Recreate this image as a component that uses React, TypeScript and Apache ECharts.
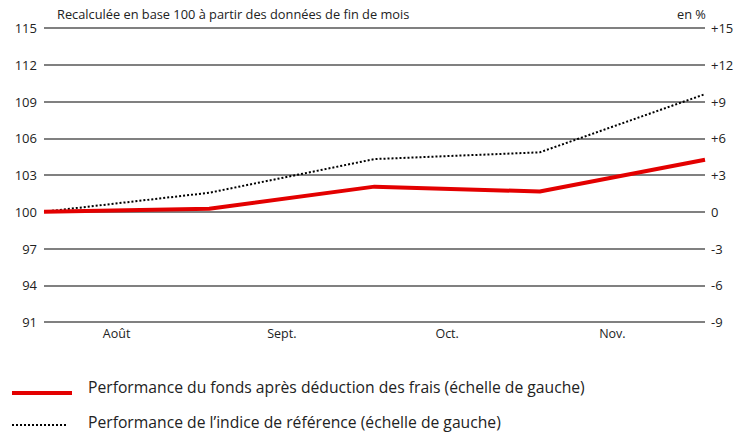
import React, { useEffect, useRef } from "react";
import * as echarts from "echarts";

const points = ["Jul", "Aug", "Sep", "Oct", "Nov"];
const months = ["Août", "Sept.", "Oct.", "Nov."];
const fund = [100, 100.25, 102.05, 101.65, 104.25];
const index = [100, 101.55, 104.3, 104.85, 109.6];
const leftTicks = [91, 115];
const rightTicks = [-9, 15];

const FONT = "'Open Sans', sans-serif";

export default function App() {
  const ref = useRef<HTMLDivElement>(null);
  useEffect(() => {
    const chart = echarts.init(ref.current!, null, { renderer: "svg" });
    chart.setOption({
      animation: false,
      grid: { left: 44, right: 42, top: 28, height: 294 },
      xAxis: [
        {
          type: "category",
          data: points,
          boundaryGap: false,
          axisLine: { show: false },
          axisTick: { show: false },
          axisLabel: { show: false },
        },
        {
          type: "category",
          data: months,
          boundaryGap: true,
          position: "bottom",
          axisLine: { show: false },
          axisTick: { show: false },
          axisLabel: {
            color: "#222",
            fontFamily: FONT,
            fontSize: 12.5,
            margin: 5,
            padding: [0, 20, 0, 0],
          },
        },
      ],
      yAxis: [
        {
          type: "value",
          min: leftTicks[0],
          max: leftTicks[1],
          interval: 3,
          axisLine: { show: false },
          axisTick: { show: false },
          axisLabel: { color: "#222", fontFamily: FONT, fontSize: 13, margin: 7 },
          splitLine: { lineStyle: { color: "#808080", width: 2 } },
        },
        {
          type: "value",
          min: rightTicks[0],
          max: rightTicks[1],
          interval: 3,
          position: "right",
          axisLine: { show: false },
          axisTick: { show: false },
          splitLine: { show: false },
          axisLabel: {
            color: "#222",
            fontFamily: FONT,
            fontSize: 13,
            margin: 6,
            formatter: (v: number) => (v > 0 ? "+" + v : String(v)),
          },
        },
      ],
      series: [
        {
          type: "line",
          name: "index",
          data: index,
          xAxisIndex: 0,
          yAxisIndex: 0,
          symbol: "none",
          lineStyle: { color: "#000", width: 2, type: [2, 2] },
          z: 3,
        },
        {
          type: "line",
          name: "fund",
          data: fund,
          xAxisIndex: 0,
          yAxisIndex: 0,
          symbol: "none",
          lineStyle: { color: "#e30000", width: 4 },
          z: 4,
        },
      ],
      graphic: [
        {
          type: "text",
          left: 57,
          top: 7,
          style: {
            text: "Recalculée en base 100 à partir des données de fin de mois",
            fontFamily: FONT,
            fontSize: 12.8,
            fill: "#222",
          },
        },
        {
          type: "text",
          left: 677,
          top: 7,
          style: { text: "en %", fontFamily: FONT, fontSize: 12.8, fill: "#222" },
        },
        {
          type: "line",
          shape: { x1: 12, y1: 393, x2: 72, y2: 393 },
          style: { stroke: "#e30000", lineWidth: 4 },
        },
        {
          type: "text",
          left: 88,
          top: 379,
          style: {
            text: "Performance du fonds après déduction des frais (échelle de gauche)",
            fontFamily: FONT,
            fontSize: 15.7,
            fill: "#222",
          },
        },
        {
          type: "line",
          shape: { x1: 12, y1: 425, x2: 68, y2: 425 },
          style: { stroke: "#000", lineWidth: 2, lineDash: [2, 2] },
        },
        {
          type: "text",
          left: 88,
          top: 414,
          style: {
            text: "Performance de l’indice de référence (échelle de gauche)",
            fontFamily: FONT,
            fontSize: 15.7,
            fill: "#222",
          },
        },
      ],
    });
    return () => chart.dispose();
  }, []);
  return <div ref={ref} style={{ width: 747, height: 432, position: "absolute", left: 0, top: 0 }} />;
}
